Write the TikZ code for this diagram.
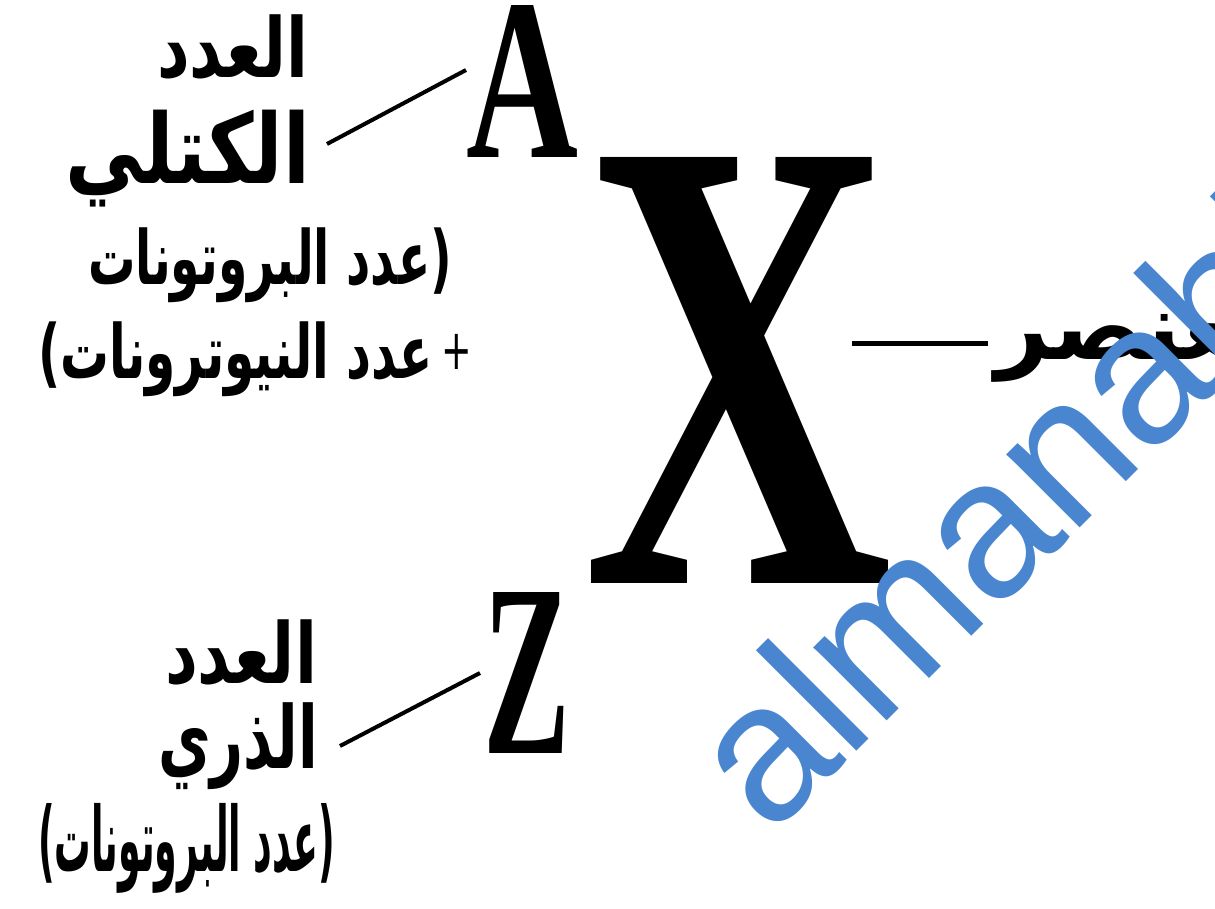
\documentclass[tikz,border=0pt]{standalone}
\usepackage{fontspec}
\usepackage{graphicx}
\TeXXeTstate=1
\XeTeXuseglyphmetrics=1
\newfontfamily\arabicfont[Script=Arabic]{DejaVu Sans}
\newfontfamily\parfont{DejaVu Sans}
\newfontfamily\serifL{Liberation Serif}
\newfontfamily\wmfont{Liberation Sans}
\definecolor{wmblue}{RGB}{74,134,208}
\newcommand\fitto[3]{\resizebox*{#1pt}{#2pt}{#3}}
\newcommand\arb[1]{{\arabicfont\bfseries\fontsize{80}{80}\selectfont\beginR #1\endR}}
\newcommand\pb[1]{\hbox{\parfont\bfseries\fontsize{80}{80}\selectfont #1}}
\newcommand\plusR{\hbox{\parfont\fontsize{60}{60}\selectfont\raisebox{10pt}{+}}}
\newcommand\serL[1]{{\serifL\bfseries\fontsize{200}{200}\selectfont #1}}
\begin{document}
\begin{tikzpicture}[x=1pt,y=-1pt,
  lab/.style={inner sep=0pt, outer sep=0pt, anchor=north west},
  conn/.style={line width=4pt, line cap=butt}]
\useasboundingbox (0,0) rectangle (1215,908);
\fill[white] (0,0) rectangle (1215,908);
\clip (0,0) rectangle (1215,908);

% symbol letters
\node[lab] (A) at (466,5) {\fitto{112}{152}{\serL{A}}};
\node[lab] (X) at (583,157) {\fitto{310}{426}{\serL{X}}};
\node[lab] (Z) at (483,592) {\fitto{87}{161}{\serL{Z}}};

% mass number label
\node[lab] (a1) at (157,15) {\fitto{151}{65}{\arb{العدد}}};
\node[lab] (a2) at (65,110) {\fitto{245}{97}{\arb{الكتلي}}};
\node[lab] (a3) at (88,228) {\fitto{364}{75}{\arb{عدد البروتونات}\pb{)}}};
\node[lab] (a4) at (38,322) {\fitto{434}{75}{\pb{(}\arb{عدد النيوترونات}\hspace{14pt}\plusR}};

% atomic number label
\node[lab] (z1) at (165,620) {\fitto{152}{66}{\arb{العدد}}};
\node[lab] (z2) at (158,703) {\fitto{160}{87}{\arb{الذري}}};
\node[lab] (z3) at (38,803) {\fitto{297}{90}{\pb{(}\arb{عدد البروتونات}\pb{)}}};

% element label
\node[lab] (e) at (995,288) {\resizebox*{!}{94pt}{\arb{العنصر}}};

% connectors
\coordinate (ca1) at (327,144);
\coordinate (ca2) at (466,70);
\coordinate (cz1) at (340,746);
\coordinate (cz2) at (480,673);
\coordinate (ce1) at (852,343);
\coordinate (ce2) at (988,343);
\draw[conn] (ca1) -- (ca2);
\draw[conn] (cz1) -- (cz2);
\draw[conn, line width=5pt] (ce1) -- (ce2);

% watermark
\node[inner sep=0pt, anchor=base west, rotate=45, text=wmblue,
  font=\wmfont\fontsize{196}{196}\selectfont] (wm) at (770,838) {almanahj};
\end{tikzpicture}
\end{document}
